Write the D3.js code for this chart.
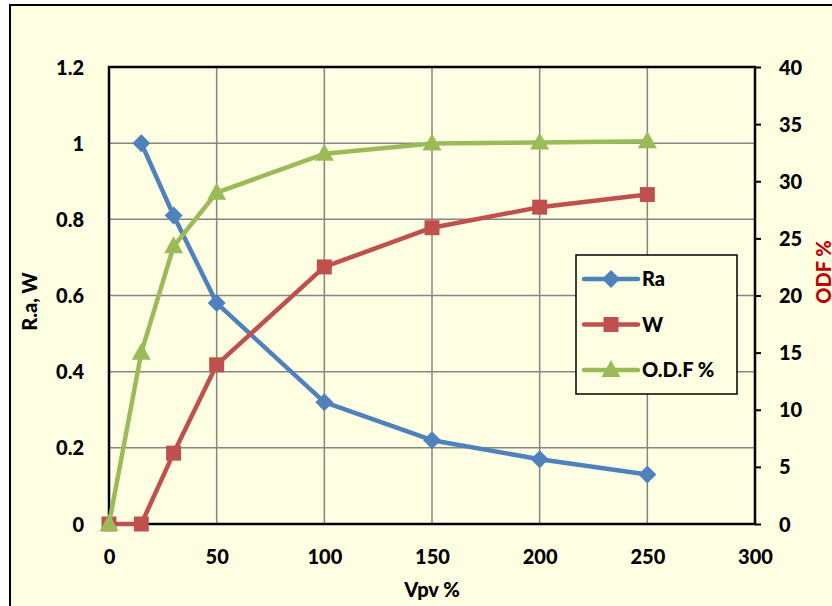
<!DOCTYPE html>
<html><head><meta charset="utf-8">
<script src="https://cdn.jsdelivr.net/npm/d3@7"></script>
<style>body{margin:0;background:#fff}svg{display:block}text{font-family:Lato,"Open Sans",sans-serif;font-weight:bold}</style>
</head><body>
<script>
const xVals = [0, 15, 30, 50, 100, 150, 200, 250];
const raX = [15, 30, 50, 100, 150, 200, 250];
const raVals = [1.0, 0.81, 0.58, 0.32, 0.22, 0.17, 0.13];
const wVals = [0, 0, 0.186, 0.418, 0.675, 0.778, 0.832, 0.865];
const odfVals = [0, 15, 24.3, 29.0, 32.4, 33.3, 33.4, 33.5];
const xTicks = [0, 50, 100, 150, 200, 250, 300];
const yTicks = [0, 0.2, 0.4, 0.6, 0.8, 1, 1.2];
const y2Ticks = [0, 5, 10, 15, 20, 25, 30, 35, 40];
const seriesNames = ["Ra", "W", "O.D.F %"];
const colors = ["#4F81BD", "#C0504D", "#9BBB59"];

const W = 832, H = 606;
const svg = d3.select("body").append("svg").attr("width", W).attr("height", H);
svg.append("rect").attr("x", 10).attr("y", 5).attr("width", 840).attr("height", 640)
  .attr("fill", "#FEFEE2").attr("stroke", "#000").attr("stroke-width", 2);

const L = 109, R = 755, T = 67, B = 524;
const x = d3.scaleLinear().domain([0, 300]).range([L, R]);
const y = d3.scaleLinear().domain([0, 1.2]).range([B, T]);
const y2 = d3.scaleLinear().domain([0, 40]).range([B, T]);

// grid
const g = svg.append("g");
g.selectAll(".vg").data(xTicks.slice(1, -1)).join("line")
  .attr("x1", d => x(d)).attr("x2", d => x(d)).attr("y1", T).attr("y2", B)
  .attr("stroke", "#868686").attr("stroke-width", 1.5);
g.selectAll(".hg").data(yTicks.slice(1, -1)).join("line")
  .attr("x1", L).attr("x2", R).attr("y1", d => y(d)).attr("y2", d => y(d))
  .attr("stroke", "#868686").attr("stroke-width", 1.5);
svg.append("rect").attr("x", L).attr("y", T).attr("width", R - L).attr("height", B - T)
  .attr("fill", "none").attr("stroke", "#000").attr("stroke-width", 2.5);

// axes
const fs = 20;
const xa = svg.append("g").attr("transform", `translate(0,${B})`)
  .call(d3.axisBottom(x).tickValues(xTicks).tickSize(0).tickPadding(26).tickFormat(d3.format("d")));
const ya = svg.append("g").attr("transform", `translate(${L},0)`)
  .call(d3.axisLeft(y).tickValues(yTicks).tickSize(0).tickPadding(25).tickFormat(d => d3.format("~g")(d)));
const y2a = svg.append("g").attr("transform", `translate(${R},0)`)
  .call(d3.axisRight(y2).tickValues(y2Ticks).tickSize(6).tickPadding(18).tickFormat(d3.format("d")));
[xa, ya, y2a].forEach(a => {
  a.select(".domain").remove();
  a.selectAll("text").attr("font-size", fs).attr("fill", "#000").style("font-family", "Lato").style("font-weight", "900");
  a.selectAll("line").attr("stroke", "#000").attr("stroke-width", 2);
});
ya.selectAll("text").attr("dy", "0.35em");
y2a.selectAll("text").attr("dy", "0.35em");

svg.append("text").attr("x", (L + R) / 2).attr("y", 597).attr("text-anchor", "middle")
  .attr("font-size", fs).style("font-weight", "900").text("Vpv %");
svg.append("text").attr("transform", `translate(37,${(T + B) / 2 + 6}) rotate(-90)`).attr("text-anchor", "middle")
  .attr("font-size", fs).style("font-weight", "900").text("R.a, W");
svg.append("text").attr("transform", `translate(831,272) rotate(-90)`).attr("text-anchor", "middle")
  .attr("font-size", fs).style("font-weight", "900").attr("fill", "#C00000").text("ODF %");

// series
const line = (xs, vs, sc) => d3.line().x((d, i) => x(xs[i])).y(d => sc(d))(vs);
const diamond = "M0,-9L9,0L0,9L-9,0Z";
const square = d3.symbol().type(d3.symbolSquare).size(225);
const tri = "M0,-10L9.5,7L-9.5,7Z";

function drawSeries(xs, vs, sc, color, sym) {
  svg.append("path").attr("d", line(xs, vs, sc)).attr("fill", "none")
    .attr("stroke", color).attr("stroke-width", 4.5).attr("stroke-linejoin", "round").attr("stroke-linecap", "round");
  svg.append("g").selectAll("path").data(vs).join("path")
    .attr("transform", (d, i) => `translate(${x(xs[i])},${sc(d)})`)
    .attr("d", sym).attr("fill", color);
}
drawSeries(raX, raVals, y, colors[0], diamond);
drawSeries(xVals, wVals, y, colors[1], square);
drawSeries(xVals, odfVals, y2, colors[2], tri);

// legend
const lg = svg.append("g");
lg.append("rect").attr("x", 576).attr("y", 255).attr("width", 161).attr("height", 139)
  .attr("fill", "#FEFEE2").attr("stroke", "#000").attr("stroke-width", 1.5);
const syms = [diamond, square, tri];
seriesNames.forEach((n, i) => {
  const yy = 279 + i * 45.5;
  lg.append("line").attr("x1", 584).attr("x2", 638).attr("y1", yy).attr("y2", yy)
    .attr("stroke", colors[i]).attr("stroke-width", 4.5).attr("stroke-linecap", "round");
  lg.append("path").attr("transform", `translate(611,${yy})`).attr("d", syms[i]).attr("fill", colors[i]);
  lg.append("text").attr("x", 642).attr("y", yy).attr("dy", "0.35em").attr("font-size", fs).style("font-weight", "900").text(n);
});
</script>
</body></html>
